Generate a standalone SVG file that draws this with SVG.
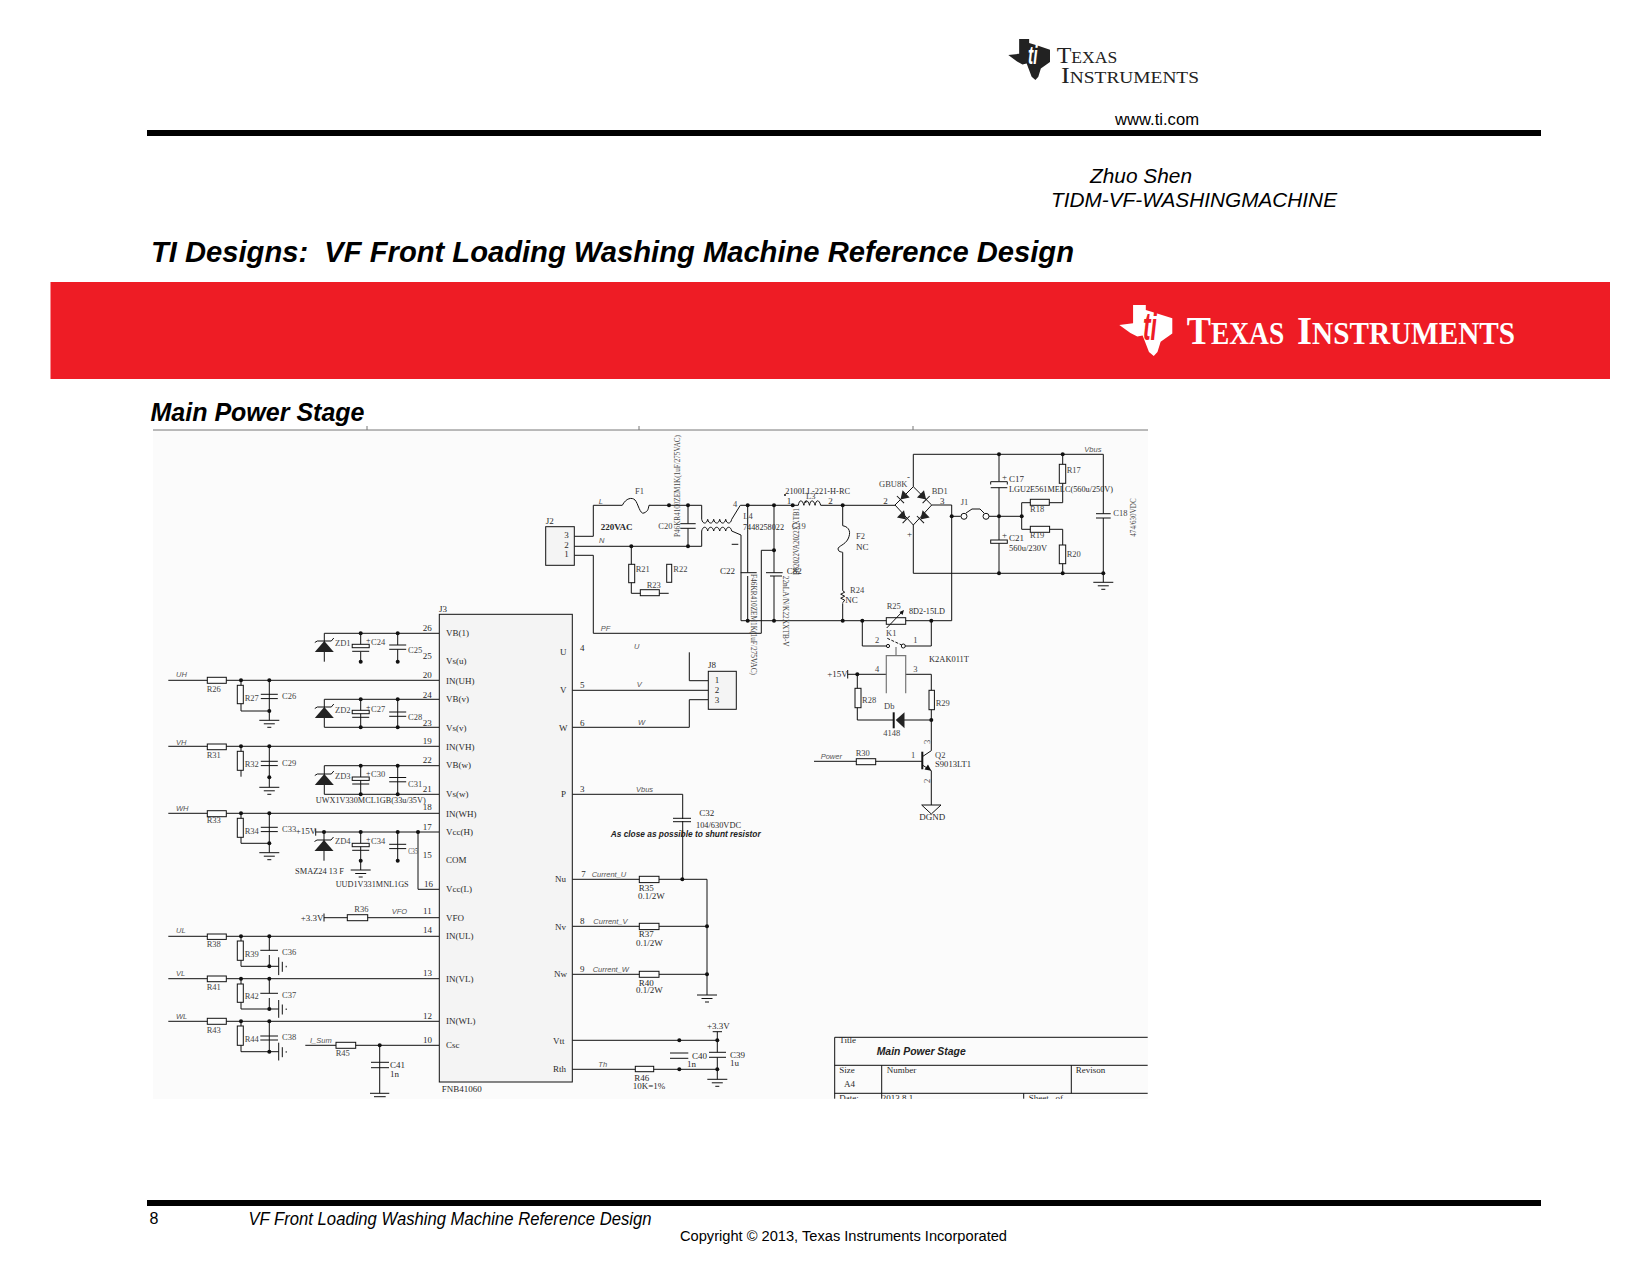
<svg xmlns="http://www.w3.org/2000/svg" width="1650" height="1275" viewBox="0 0 1650 1275">
<style>
text{font-family:"Liberation Serif","Times New Roman",serif;font-size:9px;fill:#2a2a2a}
.a{font-family:"Liberation Sans",Arial,sans-serif;fill:#000}
.i{font-style:italic}
.b{font-weight:bold}
.n{font-family:"Liberation Sans",Arial,sans-serif;font-style:italic;font-size:7.5px;fill:#555}
.l{font-size:8.5px;fill:#444}
.w{fill:none;stroke:#111;stroke-width:1}
.g{fill:none;stroke:#777;stroke-width:1.2}
.r{fill:#fdfdfd;stroke:#111;stroke-width:1}
.k{fill:#111;stroke:#111;stroke-width:1}
.c{fill:none;stroke:#111;stroke-width:1}
</style>
<defs>
<circle id="dot" r="2" fill="#111"/>
<g id="gnd" class="c"><path d="M-10 0H10M-5.500 3.500H5.500M-2 7H2"/></g>
<g id="zd"><polygon points="-9.500,11 9.500,11 0,0" fill="#222"/><path class="c" d="M-9.500 1.500L-7 0H7L9.500 -3"/></g>
<g id="pc"><rect class="r" x="-8.500" y="0" width="17" height="3.400"/><path class="c" d="M-8.500 7H8.500"/></g>
<g id="sc"><path class="c" d="M-8.500 0H8.500M-8.500 4.300H8.500"/></g>
<g id="vc"><path class="c" d="M0 -9V8.800M3.600 -4.500V5.500M7.500 -.5V1"/></g>
<g id="bd"><polygon points="-4,-5 -4,5 4,0" fill="#222"/><path class="c" d="M4 -5V5"/></g>
<path id="ti" d="M26 0H50V10L70 16 100 26V56L78 72 72 92 65 100 56 92 44 60 34 62 21 55 0 39 26 36Z"/>
<clipPath id="tb"><rect x="830" y="1030" width="318" height="69"/></clipPath>
</defs>
<rect width="1650" height="1275" fill="#fff"/>

<g id="header">
<g id="logo-top">
<use href="#ti" transform="translate(1008.300 39) scale(.417 .41)" fill="#222"/>
<text class="b i" transform="translate(1028 64) scale(.6 1)" style="font-family:'Liberation Sans',sans-serif;font-size:26px;fill:#fff">ti</text>
<text x="1056.700" y="63.300" textLength="60.500" lengthAdjust="spacingAndGlyphs" style="font-size:17.700px;fill:#222"><tspan style="font-size:24px">T</tspan>EXAS</text>
<text x="1061" y="83.300" textLength="138" lengthAdjust="spacingAndGlyphs" style="font-size:17.700px;fill:#222"><tspan style="font-size:24px">I</tspan>NSTRUMENTS</text>
</g>
<text class="a" x="1115" y="125" textLength="84" lengthAdjust="spacingAndGlyphs" style="font-size:16px">www.ti.com</text>
<rect x="147" y="130" width="1394" height="6" fill="#000"/>
<text class="a i" x="1090" y="183" textLength="102" lengthAdjust="spacingAndGlyphs" style="font-size:20.500px">Zhuo Shen</text>
<text class="a i" x="1051" y="206.500" textLength="286" lengthAdjust="spacingAndGlyphs" style="font-size:20.500px">TIDM-VF-WASHINGMACHINE</text>
<text class="a b i" x="151" y="262" textLength="923" lengthAdjust="spacingAndGlyphs" xml:space="preserve" style="font-size:30px">TI Designs:  VF Front Loading Washing Machine Reference Design</text>
<rect id="banner" x="50.500" y="282" width="1559.500" height="97" fill="#ee1c25"/>
<g id="logo-banner">
<use href="#ti" transform="translate(1119.300 305) scale(.53 .51)" fill="#fff"/>
<text class="b i" transform="translate(1143 340) scale(.6 1)" style="font-family:'Liberation Sans',sans-serif;font-size:38px;fill:#ee1c25">ti</text>
<text class="b" x="1186.700" y="344" textLength="97.500" lengthAdjust="spacingAndGlyphs" style="font-size:31px;fill:#fff"><tspan style="font-size:41px">T</tspan>EXAS</text>
<text class="b" x="1297" y="344" textLength="218" lengthAdjust="spacingAndGlyphs" style="font-size:31px;fill:#fff"><tspan style="font-size:41px">I</tspan>NSTRUMENTS</text>
</g>
<text class="a b i" x="150.500" y="421" textLength="214" lengthAdjust="spacingAndGlyphs" style="font-size:25.500px">Main Power Stage</text>
</g>

<g id="sheet">
<rect x="153" y="430" width="995" height="669" fill="#fbfbfb"/>
<path d="M153 430H1148M367 426V430M639 426V430M913 426V430" fill="none" stroke="#777" stroke-width="1"/>
</g>

<g id="connectors" class="w">
<path d="M324.300 633.300H439M324.300 633.300V661.700M360.700 633.300V645M360.700 651.700V661.700M397.700 633.300V645M397.700 649.300V661.700"/>
<path d="M168.300 680.300H439M241 680.300V711H269.300M269.300 680.300V720.300"/>
<path d="M324.300 699.300H439M324.300 699.300V727.300H439M360.700 699.300V727.300M397.700 699.300V727.300"/>
<path d="M168.300 746.300H439M241 746.300V776.700M269.300 746.300V787.300"/>
<path d="M324.300 765.700H439M324.300 765.700V794.300H439M360.700 765.700V794.300M397.700 765.700V794.300"/>
<path d="M168.300 813.300H439M241 813.300V843.300H269.300M269.300 813.300V852.700"/>
<path d="M315.700 832H439M324 832V860.700M360.700 832V870M397.700 832V860.700M418 832V889.300H439"/>
<path d="M324 917.700H439"/>
<path d="M168.300 936.300H439M241 936.300V966.300H278.700M269.300 936.300V950.300M269.300 955V966.300"/>
<path d="M168.300 978.700H439M241 978.700V1009H278.700M269.300 978.700V993.300M269.300 998V1009"/>
<path d="M168.300 1021.300H439M241 1021.300V1051.700H278.700M269.300 1021.300V1051.700"/>
<path d="M305.300 1045.300H439M379.700 1045.300V1093.300"/>
<path d="M689.300 652.300V680.700H708.300M572.300 690.300H708.300M572.300 727.300H689.300V699.700H708.300"/>
<path d="M572.300 794.300H682.700V879.300M572.300 879.300H707V995M572.300 926.300H707M572.300 974.300H707"/>
<path d="M572.300 1040.300H717.300M572.300 1069.300H717.300V1079.300M717.300 1031.700V1052.300M717.300 1057.300V1069.300"/>
<path d="M574.300 536.300H593.300V505.300H622.300M649 505.300H701.700V519.300M574.300 546.300H701.700V531M574.300 555.300H593.300V633.300H761.300V550.300H774"/>
<path d="M688 505.300V523.700M688 528.300V546.300"/>
<path d="M731.700 519.300L740.300 505.300H798.300M820.700 505.300H895M741 535V620.700H951.700M731.700 531L741 535"/>
<path d="M747.700 505.300V572.700M747.700 576V620.700M774 505.300V572.700M774 576V620.700"/>
<path d="M842.700 505.300V525.700M842.700 552.300V590.700M842.700 603.300V620.700"/>
<path d="M631.300 546.300V593.300H668.700"/>
<path d="M913.300 454.300H1103.300V513.700M1103.300 518V582.300M913.300 454.300V486.700M913.300 525V573.300H1103.300M931.700 505H951.700V620.700"/>
<path d="M951.700 516.300H960.700M988 516.300H1021.700M999 454.300V481.700M999 487.700V573.300"/>
<path d="M1062.700 454.300V502.700H1021.700V529.300H1062.700V573.300"/>
<path d="M862.300 620.700V646H886M931.300 620.700V646H905"/>
<path d="M847.700 674.300H886.300M905.700 674.300H931.300V720M857.300 674.300V720H893.700M931.300 720H900M931.300 720V750.700L922.300 756.700M922.300 765L931.300 770.700V805M814 761.300H922.300"/>
</g>
<g id="dots">
<use href="#dot" x="360.700" y="633.300"/><use href="#dot" x="397.700" y="633.300"/><use href="#dot" x="360.700" y="661.700"/><use href="#dot" x="397.700" y="661.700"/>
<use href="#dot" x="241" y="680.300"/><use href="#dot" x="269.300" y="680.300"/><use href="#dot" x="269.300" y="711"/>
<use href="#dot" x="360.700" y="699.300"/><use href="#dot" x="397.700" y="699.300"/><use href="#dot" x="360.700" y="727.300"/><use href="#dot" x="397.700" y="727.300"/>
<use href="#dot" x="241" y="746.300"/><use href="#dot" x="269.300" y="746.300"/><use href="#dot" x="269.300" y="777.300"/>
<use href="#dot" x="360.700" y="765.700"/><use href="#dot" x="397.700" y="765.700"/><use href="#dot" x="360.700" y="794.300"/><use href="#dot" x="397.700" y="794.300"/>
<use href="#dot" x="241" y="813.300"/><use href="#dot" x="269.300" y="813.300"/><use href="#dot" x="269.300" y="843.300"/>
<use href="#dot" x="324" y="832"/><use href="#dot" x="360.700" y="832"/><use href="#dot" x="397.700" y="832"/><use href="#dot" x="418" y="832"/><use href="#dot" x="360.700" y="860.700"/><use href="#dot" x="397.700" y="860.700"/>
<use href="#dot" x="241" y="936.300"/><use href="#dot" x="269.300" y="936.300"/><use href="#dot" x="269.300" y="966.300"/>
<use href="#dot" x="241" y="978.700"/><use href="#dot" x="269.300" y="978.700"/><use href="#dot" x="269.300" y="1009"/>
<use href="#dot" x="241" y="1021.300"/><use href="#dot" x="269.300" y="1021.300"/><use href="#dot" x="269.300" y="1051.700"/>
<use href="#dot" x="379.700" y="1045.300"/>
<use href="#dot" x="682.300" y="879.300"/><use href="#dot" x="707" y="926.300"/><use href="#dot" x="707" y="974.300"/>
<use href="#dot" x="679.300" y="1040.300"/><use href="#dot" x="717.300" y="1040.300"/><use href="#dot" x="679.300" y="1069.300"/><use href="#dot" x="717.300" y="1069.300"/>
<use href="#dot" x="669" y="505.300"/><use href="#dot" x="688" y="505.300"/><use href="#dot" x="631.300" y="546.300"/><use href="#dot" x="688" y="546.300"/>
<use href="#dot" x="747.700" y="505.300"/><use href="#dot" x="774" y="505.300"/><use href="#dot" x="774" y="550.300"/><use href="#dot" x="792.700" y="505.300"/><use href="#dot" x="842.700" y="505.300"/>
<use href="#dot" x="747.700" y="620.700"/><use href="#dot" x="774" y="620.700"/><use href="#dot" x="842.700" y="620.700"/><use href="#dot" x="862.300" y="620.700"/><use href="#dot" x="931.300" y="620.700"/>
<use href="#dot" x="951.700" y="516.300"/><use href="#dot" x="999" y="454.300"/><use href="#dot" x="1062.700" y="454.300"/><use href="#dot" x="999" y="516.300"/><use href="#dot" x="1021.700" y="516.300"/>
<use href="#dot" x="999" y="573.300"/><use href="#dot" x="1062.700" y="573.300"/><use href="#dot" x="1103.300" y="573.300"/>
<use href="#dot" x="857.300" y="674.300"/><use href="#dot" x="931.300" y="720"/>
</g>

<g id="U3">
<rect x="439.300" y="614.300" width="133" height="467.700" fill="#f4f4f4" stroke="#111"/>
<text x="439" y="612">J3</text>
<text x="441.700" y="1092">FNB41060</text>
<text x="446" y="636">VB(1)</text><text x="446" y="664">Vs(u)</text><text x="446" y="683.500">IN(UH)</text><text x="446" y="702.300">VB(v)</text><text x="446" y="731">Vs(v)</text><text x="446" y="750">IN(VH)</text><text x="446" y="768.300">VB(w)</text><text x="446" y="797.300">Vs(w)</text><text x="446" y="816.500">IN(WH)</text><text x="446" y="835">Vcc(H)</text><text x="446" y="862.700">COM</text><text x="446" y="891.700">Vcc(L)</text><text x="446" y="920.700">VFO</text><text x="446" y="939.300">IN(UL)</text><text x="446" y="982.300">IN(VL)</text><text x="446" y="1024.300">IN(WL)</text><text x="446" y="1048.300">Csc</text>
<text x="422.700" y="630.700">26</text><text x="422.700" y="659.300">25</text><text x="422.700" y="678">20</text><text x="422.700" y="697.700">24</text><text x="422.700" y="725.700">23</text><text x="422.700" y="744">19</text><text x="422.700" y="763.300">22</text><text x="422.700" y="791.700">21</text><text x="422.700" y="810">18</text><text x="422.700" y="830">17</text><text x="422.700" y="858.300">15</text><text x="424" y="886.700">16</text><text x="423" y="914.300">11</text><text x="423" y="933.300">14</text><text x="423" y="976">13</text><text x="423" y="1019.300">12</text><text x="423" y="1043.300">10</text>
<text x="560" y="655">U</text><text x="560" y="692.700">V</text><text x="559" y="730.700">W</text><text x="561" y="797.300">P</text><text x="555" y="881.700">Nu</text><text x="555" y="930">Nv</text><text x="554" y="976.700">Nw</text><text x="553" y="1044">Vtt</text><text x="553" y="1071.700">Rth</text>
<text x="580" y="650.700">4</text><text x="580" y="687.700">5</text><text x="580" y="725.700">6</text><text x="580" y="791.700">3</text><text x="581.300" y="876.700">7</text><text x="580" y="924.300">8</text><text x="580" y="972.300">9</text>
</g>

<g id="net-labels">
<text class="n" x="176" y="677.300">UH</text><text class="n" x="176" y="744.700">VH</text><text class="n" x="176" y="810.700">WH</text><text class="n" x="176" y="933.300">UL</text><text class="n" x="176" y="976">VL</text><text class="n" x="176" y="1019">WL</text><text class="n" x="391.700" y="914.300">VFO</text><text class="n" x="310" y="1043">I_Sum</text>
<text class="n" x="634" y="649.300">U</text><text class="n" x="636.700" y="687.300">V</text><text class="n" x="638" y="724.700">W</text><text class="n" x="636" y="791.700">Vbus</text>
<text class="n" x="591.700" y="876.700">Current_U</text><text class="n" x="593.300" y="924.300">Current_V</text><text class="n" x="592.700" y="972.300">Current_W</text><text class="n" x="598.300" y="1066.700">Th</text>
<text class="n" x="598.700" y="503.700">L</text><text class="n" x="599" y="543.300">N</text><text class="n" x="600.700" y="630.700">PF</text><text class="n" x="1084.300" y="452.300">Vbus</text><text class="n" x="820.700" y="758.700">Power</text>
<text class="a b i" x="610.700" y="837.300" textLength="150" lengthAdjust="spacingAndGlyphs" style="font-size:9px;fill:#222">As close as possible to shunt resistor</text>
<text class="b" x="600.700" y="530">220VAC</text>
</g>

<g id="ZD1"><use href="#zd" x="324.300" y="641"/><text class="l" x="335" y="645.700">ZD1</text></g>
<g id="C24"><use href="#pc" x="360.700" y="644.300"/><text x="366" y="643" style="font-size:8px">+</text><text class="l" x="371" y="645">C24</text></g>
<g id="C25"><use href="#sc" x="397.700" y="645"/><text class="l" x="408" y="653">C25</text></g>
<g id="R26"><rect class="r" x="207.300" y="677.300" width="19" height="6"/><text class="l" x="206.700" y="691.700">R26</text></g>
<g id="R27"><rect class="r" x="237.300" y="685.300" width="6" height="18.400"/><text class="l" x="244.700" y="700.700">R27</text></g>
<g id="C26"><use href="#sc" x="269.300" y="694.300"/><text class="l" x="282" y="699">C26</text><use href="#gnd" x="269.300" y="720.300"/></g>
<g id="ZD2"><use href="#zd" x="324.300" y="707"/><text class="l" x="335" y="712.700">ZD2</text></g>
<g id="C27"><use href="#pc" x="360.700" y="710.300"/><text x="366" y="709.500" style="font-size:8px">+</text><text class="l" x="371" y="711.700">C27</text></g>
<g id="C28"><use href="#sc" x="397.700" y="712"/><text class="l" x="408" y="720">C28</text></g>
<g id="R31"><rect class="r" x="207.300" y="744" width="19" height="5.700"/><text class="l" x="206.700" y="757.700">R31</text></g>
<g id="R32"><rect class="r" x="237.300" y="751.300" width="6" height="19"/><text class="l" x="244.700" y="766.700">R32</text></g>
<g id="C29"><use href="#sc" x="269.300" y="761.300"/><text class="l" x="282" y="766">C29</text><use href="#gnd" x="269.300" y="787.300"/></g>
<g id="ZD3"><use href="#zd" x="324.300" y="774"/><text class="l" x="335" y="779">ZD3</text></g>
<g id="C30"><use href="#pc" x="360.700" y="777"/><text x="366" y="776" style="font-size:8px">+</text><text class="l" x="371" y="777.300">C30</text></g>
<g id="C31"><use href="#sc" x="397.700" y="777.500"/><text class="l" x="408" y="787.300">C31</text></g>
<text id="C-part-a" x="315.700" y="802.700" textLength="110" lengthAdjust="spacingAndGlyphs">UWX1V330MCL1GB(33u/35V)</text>
<g id="R33"><rect class="r" x="207.300" y="810.700" width="19" height="6"/><text class="l" x="206.700" y="823.300">R33</text></g>
<g id="R34"><rect class="r" x="237.300" y="818.300" width="6" height="19"/><text class="l" x="244.700" y="834">R34</text></g>
<g id="C33"><use href="#sc" x="269.300" y="827.300"/><text class="l" x="282" y="831.700">C33</text><use href="#gnd" x="269.300" y="852.700"/></g>
<g id="P15"><path class="c" d="M315.700 828.700V835.700"/><text x="295.700" y="834.300">+15V</text></g>
<g id="ZD4"><use href="#zd" x="324" y="840"/><text class="l" x="335" y="844.300">ZD4</text></g>
<g id="C34"><use href="#pc" x="360.700" y="843.300"/><text x="366" y="842" style="font-size:8px">+</text><text class="l" x="371" y="844">C34</text><use href="#gnd" x="360.700" y="870"/></g>
<g id="C35"><use href="#sc" x="397.700" y="844.300"/><text class="l" x="408.300" y="854" textLength="9.500" lengthAdjust="spacingAndGlyphs">C35</text></g>
<text x="295" y="874" textLength="49" lengthAdjust="spacingAndGlyphs">SMAZ24 13 F</text>
<text x="335.700" y="887.300" textLength="73" lengthAdjust="spacingAndGlyphs">UUD1V331MNL1GS</text>
<g id="V33"><path class="c" d="M324 913.500V921.500"/><text x="300.700" y="920.700">+3.3V</text></g>
<g id="R36"><rect class="r" x="347.300" y="914.700" width="20.400" height="6"/><text class="l" x="354.300" y="912.300">R36</text></g>
<g id="R38"><rect class="r" x="207.300" y="934" width="19" height="5.400"/><text class="l" x="206.700" y="946.700">R38</text></g>
<g id="R39"><rect class="r" x="237.300" y="941" width="6" height="19.300"/><text class="l" x="244.700" y="956.700">R39</text></g>
<g id="C36"><path class="c" d="M260.300 950.300H278"/><use href="#vc" x="278.700" y="966.300"/><text class="l" x="282" y="955.300">C36</text></g>
<g id="R41"><rect class="r" x="207.300" y="976" width="19" height="5.700"/><text class="l" x="206.700" y="990">R41</text></g>
<g id="R42"><rect class="r" x="237.300" y="984" width="6" height="18.300"/><text class="l" x="244.700" y="999">R42</text></g>
<g id="C37"><path class="c" d="M260.300 993.300H278"/><use href="#vc" x="278.700" y="1009"/><text class="l" x="282" y="998">C37</text></g>
<g id="R43"><rect class="r" x="207.300" y="1018.300" width="19" height="6"/><text class="l" x="206.700" y="1033.300">R43</text></g>
<g id="R44"><rect class="r" x="237.300" y="1026" width="6" height="19.300"/><text class="l" x="244.700" y="1042">R44</text></g>
<g id="C38"><path class="c" d="M260.300 1036H278M260.300 1040H278"/><use href="#vc" x="278.700" y="1051.700"/><text class="l" x="282" y="1040">C38</text></g>
<g id="R45"><rect class="r" x="336" y="1042.300" width="19.700" height="6"/><text class="l" x="335.700" y="1056">R45</text></g>
<g id="C41"><path class="c" d="M371 1062.300H389M371 1067.700H389M370 1093.300H389.300M374 1096.700H385.700"/><text x="390" y="1067.700">C41</text><text x="390" y="1076.700">1n</text></g>

<g id="J8"><rect x="708.300" y="671.300" width="28" height="38" fill="#f4f4f4" stroke="#111"/><text x="708" y="668">J8</text><text x="714.700" y="683.300">1</text><text x="714.700" y="693">2</text><text x="714.700" y="702.700">3</text></g>
<g id="C32"><path class="c" d="M673 818.300H691M673 821.700H691"/><rect x="681" y="819" width="3" height="2" fill="#fbfbfb"/><text x="699.300" y="816">C32</text><text x="696" y="828" textLength="45" lengthAdjust="spacingAndGlyphs">104/630VDC</text></g>
<g id="R35"><rect class="r" x="639.300" y="876.300" width="19.700" height="6.300"/><text x="638.700" y="890.700">R35</text><text x="638" y="899.300">0.1/2W</text></g>
<g id="R37"><rect class="r" x="639.300" y="923.300" width="19.700" height="6.300"/><text x="638.700" y="937.300">R37</text><text x="636" y="945.700">0.1/2W</text></g>
<g id="R40"><rect class="r" x="639.300" y="971.300" width="19.700" height="6"/><text x="638.700" y="985.700">R40</text><text x="636" y="993.300">0.1/2W</text></g>
<use id="GND-shunt" href="#gnd" x="707" y="995"/>
<g id="V33b"><path class="c" d="M712.700 1031.700H722"/><text x="707" y="1029">+3.3V</text></g>
<g id="C39"><path class="c" d="M709 1052.300H726M709 1057.300H726"/><text x="730" y="1057.700">C39</text><text x="730" y="1065.700">1u</text></g>
<g id="C40"><path class="c" d="M670 1053H688.300M670 1058.300H688.300"/><text x="692" y="1059">C40</text><text x="687" y="1067.300">1n</text></g>
<g id="R46"><rect class="r" x="635.300" y="1066.300" width="18.400" height="5.400"/><text x="634.300" y="1080.700">R46</text><text x="632.700" y="1088.700">10K=1%</text></g>
<use id="GND-rth" href="#gnd" x="717.300" y="1079.300"/>

<g id="title-block">
<path class="c" d="M834.700 1098.700V1037.300H1147.700M834.700 1065.300H1147.700M834.700 1093.300H1147.700M881.700 1065.300V1098.700M1071.300 1065.300V1093.300M1023.700 1093.300V1098.700"/>
<text x="839.300" y="1043.300">Title</text>
<text class="a b i" x="876.700" y="1055" textLength="89" lengthAdjust="spacingAndGlyphs" style="font-size:11px;fill:#222">Main Power Stage</text>
<text x="839.300" y="1072.700">Size</text><text x="844" y="1086.700">A4</text><text x="886.700" y="1072.700">Number</text><text x="1075.700" y="1072.700">Revison</text>
<g clip-path="url(#tb)"><text x="839.300" y="1100.700">Date:</text><text x="881.700" y="1100.700">2013.8.1</text><text x="1028.700" y="1100.700" xml:space="preserve">Sheet   of</text></g>
</g>

<g id="J2"><rect x="545.700" y="526.700" width="28.600" height="38.600" fill="#f4f4f4" stroke="#111"/><text x="545.700" y="524.300">J2</text><text x="564.300" y="538.300">3</text><text x="564.300" y="548.300">2</text><text x="564.300" y="557.300">1</text></g>
<g id="F1"><path class="w" d="M622.300 505.300C626 498 632 497 635 500S640 515 644 513 648 510 649 505.300" style="fill:#fbfbfb"/><text x="635" y="494.300" class="l">F1</text></g>
<g id="C20"><path class="c" d="M680.300 523.700H695.700M680.300 528.300H695.700"/><text class="l" x="658.300" y="529">C20</text></g>
<text id="part-c20" class="l" transform="translate(679.700 537) rotate(-90)" textLength="102" lengthAdjust="spacingAndGlyphs">P46KR4100ZEM1K(1uF/275VAC)</text>
<g id="L4"><path class="w" d="M701.700 519.300c1 5 5 5 6 0c1 5 5 5 6 0c1 5 5 5 6 0c1 5 5 5 6 0c1 5 5 5 6 0M701.700 531c1 -5 5 -5 6 0c1 -5 5 -5 6 0c1 -5 5 -5 6 0c1 -5 5 -5 6 0c1 -5 5 -5 6 0"/><path class="c" d="M731.700 544.300H738.300"/><text class="l" x="743.300" y="519">L4</text><text class="l" x="733" y="507.300">4</text><text x="743" y="530" textLength="41" lengthAdjust="spacingAndGlyphs">7448258022</text></g>
<g id="C22"><path class="c" d="M740.700 572.700H756.700"/><text x="720" y="574.300">C22</text></g>
<text id="part-c22" class="l" transform="translate(751 574) rotate(90)" textLength="101" lengthAdjust="spacingAndGlyphs">F46KR410ZEM1K(1uF/275VAC)</text>
<g id="C82"><path class="c" d="M766 572.700H782.700M770 576H782"/><text x="786.700" y="574">C82</text></g>
<text id="part-c82" class="l" transform="translate(783 575.700) rotate(90)" textLength="71" lengthAdjust="spacingAndGlyphs">22nLA/N/K22XXTB-V</text>
<text id="C19" class="l" x="791.700" y="529">C19</text>
<text id="part-c19" class="l" transform="translate(799 575) rotate(-90)" textLength="67" lengthAdjust="spacingAndGlyphs">B82022VA2022XXTB1</text>
<g id="L3"><path class="w" d="M798.300 505.300c1 -6 4 -6 5.600 0c1 -6 4 -6 5.600 0c1 -6 4 -6 5.600 0c1 -6 4 -6 5.600 0"/><circle cx="785" cy="495" r="1" fill="#111"/><circle cx="805.700" cy="501.700" r="1" fill="#111"/><text class="l" x="806" y="499">L3</text><text x="785.300" y="494" textLength="64.700" lengthAdjust="spacingAndGlyphs">2100LL-221-H-RC</text><text x="786.700" y="504">1</text><text x="828.300" y="504">2</text></g>
<g id="F2"><path class="w" d="M842.700 525.700C850 527 851 533 848 539S838 546 838 549 842 552 842.700 552.300" style="fill:#fbfbfb"/><text class="l" x="856" y="539">F2</text><text x="856" y="550">NC</text></g>
<g id="R24"><path class="w" d="M842.700 590.700l2 1.500-4 2 4 2-4 2 4 2-2 2.600" style="fill:#fbfbfb"/><text class="l" x="850" y="592.700">R24</text><text x="845.300" y="603.300">NC</text></g>
<g id="R21"><rect class="r" x="628.700" y="564.300" width="6" height="18.400"/><text class="l" x="635.700" y="571.700">R21</text></g>
<g id="R22"><rect class="r" x="666.700" y="564.300" width="5" height="18"/><text class="l" x="673.300" y="571.700">R22</text></g>
<g id="R23"><rect class="r" x="640.300" y="589.700" width="19" height="6"/><text class="l" x="646.700" y="587.700">R23</text></g>

<g id="BD1">
<path class="c" d="M895 505L913.300 486.700 931.700 505 913.300 525Z"/>
<use href="#bd" transform="translate(903.300 496.700) rotate(135)"/><use href="#bd" transform="translate(923.300 496.700) rotate(45)"/><use href="#bd" transform="translate(903.300 516.700) rotate(45)"/><use href="#bd" transform="translate(923.300 516.700) rotate(135)"/>
<text x="879" y="486.700" class="l">GBU8K</text><text x="931.700" y="494.300" class="l">BD1</text><text x="883.300" y="504">2</text><text x="940" y="504">3</text><text x="907" y="480">-</text><text x="907" y="537">+</text>
</g>
<g id="J1"><circle class="r" cx="964" cy="516.300" r="3"/><circle class="r" cx="986" cy="516.300" r="3"/><path class="c" d="M966 513L972 509H980L984 513"/><text class="l" x="960.700" y="505">J1</text></g>
<g id="C17"><path class="r" d="M990.700 484.500V481.700H1007.300V484.500"/><path class="c" d="M990.700 487.700H1007.300"/><text x="1002" y="480" style="font-size:9px">+</text><text x="1009" y="482.300">C17</text><text x="1009" y="492.300" textLength="104" lengthAdjust="spacingAndGlyphs">LGU2E561MELC(560u/250V)</text></g>
<g id="C21"><rect class="r" x="990.700" y="540" width="16.600" height="3.300"/><text x="1002" y="538" style="font-size:9px">+</text><text x="1009" y="540.700">C21</text><text x="1009" y="550.700" textLength="38" lengthAdjust="spacingAndGlyphs">560u/230V</text></g>
<g id="R17"><rect class="r" x="1059.300" y="464.300" width="6.400" height="19"/><text class="l" x="1066.700" y="472.700">R17</text></g>
<g id="R18"><rect class="r" x="1030.300" y="499.300" width="19" height="6"/><text class="l" x="1030" y="511.700">R18</text></g>
<g id="R19"><rect class="r" x="1030.300" y="526.300" width="19.300" height="6"/><text class="l" x="1030" y="538.300">R19</text></g>
<g id="R20"><rect class="r" x="1059.300" y="545" width="6.400" height="18.700"/><text class="l" x="1066.700" y="556.700">R20</text></g>
<g id="C18"><path class="c" d="M1096 513.700H1110.700M1096 518H1110.700"/><text class="l" x="1113.300" y="515.700">C18</text></g>
<text id="part-c18" class="l" transform="translate(1136 536.700) rotate(-90)" textLength="38.400" lengthAdjust="spacingAndGlyphs">474/630VDC</text>
<use id="GND-bus" href="#gnd" x="1103.300" y="582.300"/>
<g id="R25"><rect class="r" x="886.300" y="617.700" width="19.400" height="6.600"/><path class="c" d="M886.700 628L902.300 611.700"/><polygon points="904,610 899.500,612 902.500,615" fill="#111"/><text class="l" x="886.700" y="609.300">R25</text><text x="909" y="614.300" textLength="36" lengthAdjust="spacingAndGlyphs">8D2-15LD</text></g>
<g id="K1"><circle class="r" cx="888" cy="646" r="1.600"/><circle class="r" cx="903.300" cy="646" r="2"/><path class="c" d="M887.300 638.300L901.700 645" stroke-dasharray="3 1.500"/><path class="g" d="M896 647V655.700M886.300 693.300V655.700H905.700V693.300"/><text class="l" x="886" y="636">K1</text><text class="l" x="875" y="643.300">2</text><text class="l" x="913.300" y="643.300">1</text><text class="l" x="875" y="672">4</text><text class="l" x="913.300" y="672">3</text><text x="929" y="662.300" textLength="40" lengthAdjust="spacingAndGlyphs">K2AK011T</text></g>
<g id="P15b"><path class="c" d="M847.700 670V678.500"/><text x="827.300" y="677.300">+15V</text></g>
<g id="R28"><rect class="r" x="855" y="688.300" width="6" height="19.400"/><text class="l" x="862" y="703.300">R28</text></g>
<g id="R29"><rect class="r" x="929" y="690.300" width="5.400" height="19.400"/><text class="l" x="935.700" y="706">R29</text></g>
<g id="Db"><path d="M893.700 712.300V728.300" stroke="#111" stroke-width="2"/><polygon points="895.700,720 904.500,712.300 904.500,728.300" fill="#222"/><text class="l" x="884" y="708.700">Db</text><text class="l" x="883.300" y="736.300">4148</text></g>
<g id="R30"><rect class="r" x="856.300" y="758.700" width="19.400" height="6"/><text class="l" x="855.700" y="755.700">R30</text></g>
<g id="Q2"><path d="M922.300 751.700V769.300" stroke="#111" stroke-width="2"/><polygon points="931.300,770.700 924.500,769.500 928,764.500" fill="#111"/><text class="l" x="911" y="758">1</text><text class="l" x="935" y="757.700">Q2</text><text x="935" y="766.700" textLength="36" lengthAdjust="spacingAndGlyphs">S9013LT1</text><text class="l" transform="translate(930 744) rotate(-90)">3</text><text class="l" transform="translate(930 783) rotate(-90)">2</text></g>
<g id="DGND"><polygon points="921.700,805 941,805 931.300,814" fill="none" stroke="#111"/><text x="919.300" y="820.300">DGND</text></g>

<g id="footer">
<rect x="147" y="1200" width="1394" height="6" fill="#000"/>
<text class="a" x="149.500" y="1224" style="font-size:16px">8</text>
<text class="a i" x="248.500" y="1224.500" textLength="403" lengthAdjust="spacingAndGlyphs" style="font-size:17.500px">VF Front Loading Washing Machine Reference Design</text>
<text class="a" x="680" y="1241" textLength="327" lengthAdjust="spacingAndGlyphs" style="font-size:15.500px">Copyright © 2013, Texas Instruments Incorporated</text>
</g>
</svg>
